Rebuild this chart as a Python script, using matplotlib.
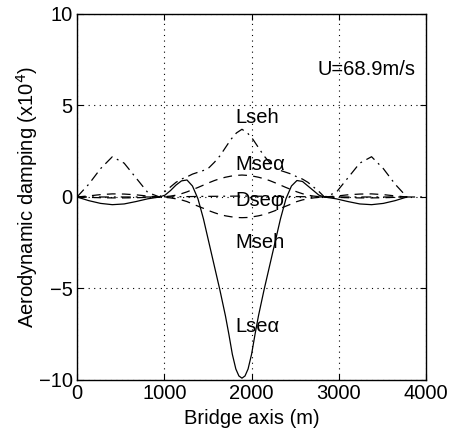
import numpy as np
import matplotlib
matplotlib.use("Agg")
import matplotlib.pyplot as plt

plt.rcParams['font.family'] = ['Liberation Sans', 'DejaVu Sans']

# 橋軸方向の位置 [m]（側径間 - 中央径間 - 側径間）
x_side_l = [0, 135, 270, 405, 540, 675, 810]
x_main = [945, 1008, 1071, 1134, 1197, 1260, 1323, 1386, 1449, 1512, 1575, 1638,
          1701, 1764, 1827, 1890, 1953, 2016, 2079, 2142, 2205, 2268, 2331, 2394,
          2457, 2520, 2583, 2646, 2709, 2772, 2835]
x_side_r = [2970, 3105, 3240, 3375, 3510, 3645, 3780]
x_all = x_side_l + x_main + x_side_r

# Lseα は谷底付近を細かく読む
x_lsea = [0, 135, 270, 405, 540, 675, 810,
          945, 1008, 1071, 1134, 1197, 1260, 1323, 1386, 1449, 1512, 1575, 1638,
          1701, 1740, 1780, 1820, 1855, 1890, 1925, 1960, 2000, 2040, 2079,
          2142, 2205, 2268, 2331, 2394, 2457, 2520, 2583, 2646, 2709, 2772, 2835,
          2970, 3105, 3240, 3375, 3510, 3645, 3780]

# 空力減衰 (x10^4)
lseh = [0.0, 0.7, 1.55, 2.2, 1.85, 1.05, 0.25,
        0.0, 0.3, 0.55, 0.8, 0.98, 1.1, 1.25, 1.35, 1.45, 1.6, 1.9, 2.25,
        2.7, 3.15, 3.5, 3.7, 3.5, 3.15, 2.7, 2.25, 1.9, 1.6, 1.45, 1.35,
        1.25, 1.1, 0.98, 0.8, 0.55, 0.3, 0.0,
        0.25, 1.05, 1.85, 2.2, 1.55, 0.7, 0.0]
lsea = [0.0, -0.2, -0.35, -0.42, -0.38, -0.25, -0.1,
        0.0, 0.1, 0.35, 0.65, 0.88, 0.93, 0.6, -0.1, -1.2, -2.5, -3.8, -5.1,
        -6.5, -7.5, -8.6, -9.4, -9.78, -9.9, -9.78, -9.4, -8.6, -7.5, -6.5,
        -5.1, -3.8, -2.5, -1.2, -0.1, 0.6, 0.9, 0.85, 0.6, 0.35, 0.1, 0.0,
        -0.1, -0.25, -0.38, -0.42, -0.35, -0.2, 0.0]
msea = [0.0, 0.06, 0.13, 0.17, 0.16, 0.12, 0.05,
        0.0, 0.02, 0.05, 0.1, 0.18, 0.28, 0.4, 0.52, 0.65, 0.78, 0.9, 1.0,
        1.08, 1.14, 1.18, 1.2, 1.18, 1.14, 1.08, 1.0, 0.9, 0.78, 0.65, 0.52,
        0.4, 0.28, 0.18, 0.1, 0.05, 0.02, 0.0,
        0.05, 0.12, 0.16, 0.17, 0.13, 0.06, 0.0]
mseh = [0.0, -0.02, -0.04, -0.05, -0.05, -0.04, -0.02,
        0.0, -0.02, -0.05, -0.1, -0.16, -0.25, -0.38, -0.5, -0.62, -0.75, -0.86, -0.96,
        -1.03, -1.08, -1.12, -1.13, -1.12, -1.08, -1.03, -0.96, -0.86, -0.75, -0.62, -0.5,
        -0.38, -0.25, -0.16, -0.1, -0.05, -0.02, 0.0,
        -0.02, -0.04, -0.05, -0.05, -0.04, -0.02, 0.0]
x_dsep = [0, 945, 1400, 1890, 2380, 2835, 4000]
dsep = [0.0, 0.0, 0.03, 0.05, 0.03, 0.0, 0.0]

fig = plt.figure(figsize=(4.49, 4.32), dpi=100)
ax = fig.add_axes([0.1715, 0.1204, 0.7775, 0.8472])

lw = 0.9
ax.plot(x_all, lseh, color='k', lw=lw, ls=(0, (8, 4, 1.5, 4)))
ax.plot(x_lsea, lsea, color='k', lw=lw, ls='-')
ax.plot(x_all, msea, color='k', lw=lw, ls=(0, (7, 5)))
ax.plot(x_all, mseh, color='k', lw=lw, ls=(0, (7, 5)))
ax.plot(x_dsep, dsep, color='k', lw=lw, ls=(0, (8, 4, 1.5, 4)))

fs = 14.5
ax.text(1810, 4.37, 'Lseh', fontsize=fs, ha='left', va='center')
ax.text(1810, 1.75, 'Mse\u03b1', fontsize=fs, ha='left', va='center')
ax.text(1810, -0.2, 'Dse\u03c6', fontsize=fs, ha='left', va='center')
ax.text(1810, -2.5, 'Mseh', fontsize=fs, ha='left', va='center')
ax.text(1810, -7.1, 'Lse\u03b1', fontsize=fs, ha='left', va='center')
ax.text(2760, 6.95, 'U=68.9m/s', fontsize=fs, ha='left', va='center')

ax.set_xlim(0, 4000)
ax.set_ylim(-10, 10)
ax.set_xticks([0, 1000, 2000, 3000, 4000])
ax.set_yticks([-10, -5, 0, 5, 10])
ax.grid(True, color='k', ls=(0, (1, 4)), lw=0.8)
ax.tick_params(direction='in', top=True, right=True, labelsize=fs, length=4, pad=3)
for s in ax.spines.values():
    s.set_linewidth(1.0)

ax.set_xlabel('Bridge axis (m)', fontsize=fs, labelpad=4)
ax.set_ylabel('Aerodynamic damping (x10$^4$)', fontsize=fs, labelpad=-1)

fig.savefig('out.png', dpi=100)
